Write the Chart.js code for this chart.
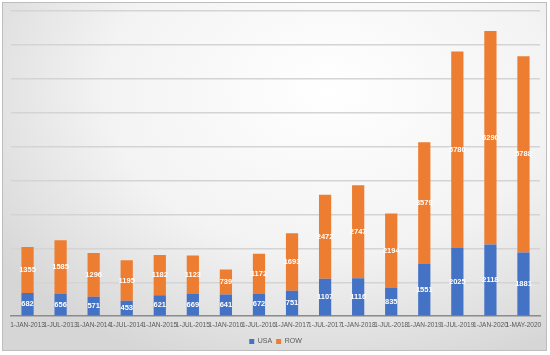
<!DOCTYPE html>
<html>
<head>
<meta charset="utf-8">
<script src="https://cdn.jsdelivr.net/npm/chart.js@4/dist/chart.umd.min.js"></script>
<style>
  html, body { margin: 0; padding: 0; background: #ffffff; }
  #wrap {
    position: absolute; left: 2px; top: 2px; width: 545px; height: 349px;
    border: 1px solid #bdbdbd; box-sizing: border-box;
    background: radial-gradient(ellipse 75% 85% at 60% 25%, #ffffff 0%, #f3f3f3 55%, #d6d6d6 100%);
  }
  #c { position: absolute; left: 3px; top: 3px; }
</style>
</head>
<body>
<div id="wrap"></div>
<canvas id="c" width="545" height="352"></canvas>
<script>
const categories = ["1-JAN-2013","1-JUL-2013","1-JAN-2014","1-JUL-2014","1-JAN-2015","1-JUL-2015","1-JAN-2016","1-JUL-2016","1-JAN-2017","1-JUL-2017","1-JAN-2018","1-JUL-2018","1-JAN-2019","1-JUL-2019","1-JAN-2020","1-MAY-2020"];
const usaValues = [682, 656, 571, 453, 621, 669, 641, 672, 751, 1107, 1116, 835, 1551, 2025, 2118, 1881];
const rowValues = [1355, 1585, 1296, 1195, 1182, 1123, 739, 1172, 1693, 2472, 2747, 2194, 3579, 5780, 6290, 5788];
const yMax = 9000;
const yStep = 1000;

const segmentLabels = {
  id: 'segmentLabels',
  afterDatasetsDraw(chart) {
    const ctx = chart.ctx;
    ctx.save();
    ctx.fillStyle = '#ffffff';
    ctx.font = 'bold 7.5px "Liberation Sans", Arial, sans-serif';
    ctx.textAlign = 'center';
    ctx.textBaseline = 'middle';
    chart.data.datasets.forEach((ds, di) => {
      const meta = chart.getDatasetMeta(di);
      meta.data.forEach((bar, i) => {
        const cy = (bar.y + bar.base) / 2;
        ctx.fillText(String(ds.data[i]), bar.x, cy);
      });
    });
    ctx.restore();
  }
};

new Chart(document.getElementById('c'), {
  type: 'bar',
  data: {
    labels: categories,
    datasets: [
      { label: 'USA', data: usaValues, backgroundColor: '#4472C4', borderWidth: 0 },
      { label: 'ROW', data: rowValues, backgroundColor: '#ED7D31', borderWidth: 0 }
    ]
  },
  options: {
    responsive: false,
    animation: false,
    devicePixelRatio: 1,
    layout: { padding: { left: 8, right: 8, top: 8, bottom: 0 } },
    datasets: { bar: { barPercentage: 0.37, categoryPercentage: 1.0 } },
    scales: {
      x: {
        stacked: true,
        grid: { display: false, drawTicks: false, tickLength: 0 },
        border: { display: true, color: '#8c8c8c', width: 1.5 },
        ticks: {
          color: '#595959', autoSkip: false, maxRotation: 0, minRotation: 0, padding: 5,
          font: { family: '"Liberation Sans", Arial, sans-serif', size: 6.5 }
        }
      },
      y: {
        stacked: true,
        min: 0, max: yMax,
        ticks: { display: false, stepSize: yStep },
        grid: { color: '#d4d4d4', lineWidth: 1.5, drawTicks: false },
        border: { display: false }
      }
    },
    plugins: {
      legend: {
        position: 'bottom',
        labels: {
          color: '#595959', boxWidth: 5, boxHeight: 5, padding: 4,
          font: { family: '"Liberation Sans", Arial, sans-serif', size: 7 }
        }
      },
      tooltip: { enabled: false }
    }
  },
  plugins: [segmentLabels]
});
</script>
</body>
</html>
